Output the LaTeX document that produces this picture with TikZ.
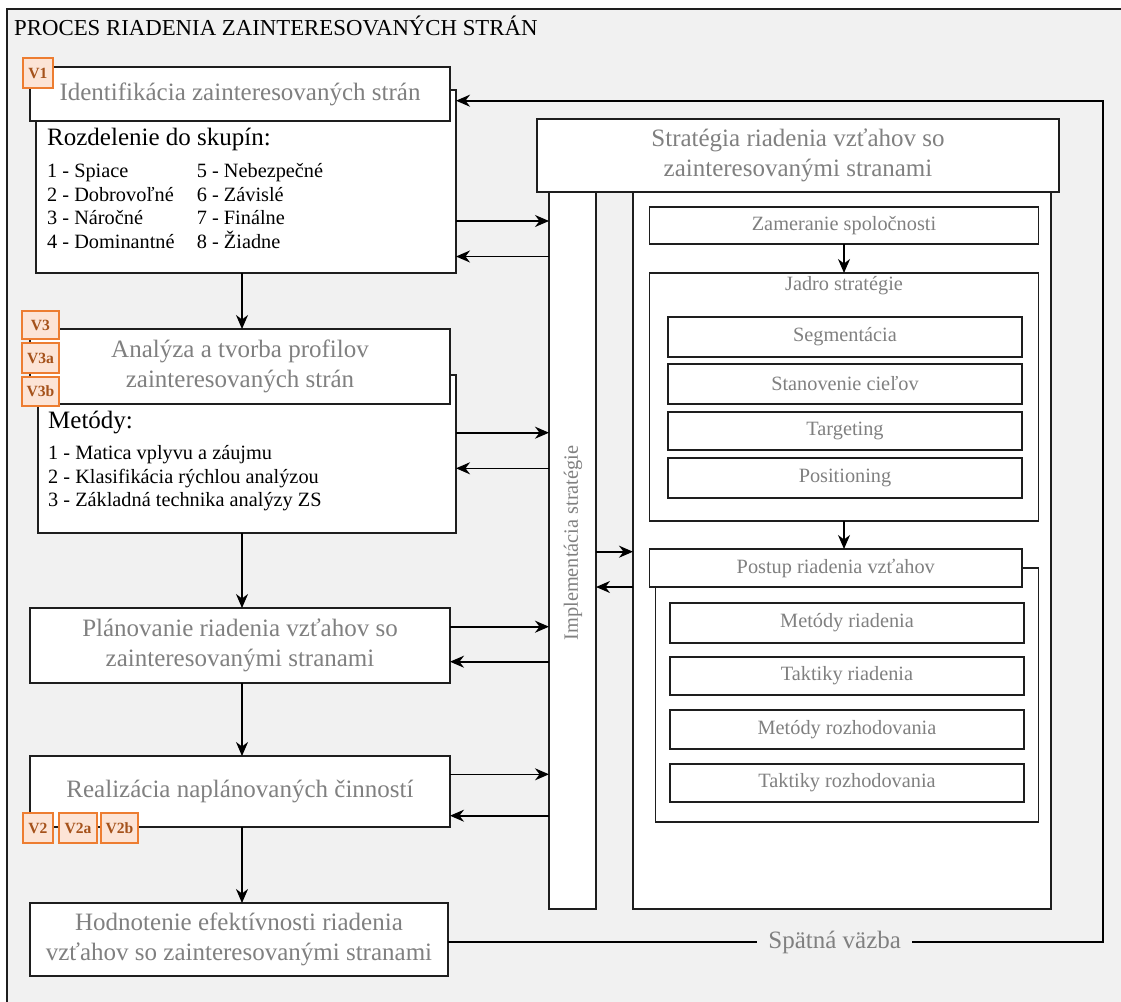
\documentclass[tikz,border=0pt]{standalone}
\usepackage{fontspec}
\setmainfont{Liberation Serif}
\usetikzlibrary{arrows.meta}

\definecolor{bgC}{HTML}{F1F1F1}
\definecolor{lineC}{HTML}{1E1E1E}
\definecolor{txtC}{HTML}{808080}
\definecolor{tagFill}{HTML}{FCE4D6}
\definecolor{tagDraw}{HTML}{ED7D31}
\definecolor{tagText}{HTML}{A5521B}

\newcommand\ftitle{\fontsize{22.8}{26}\selectfont}
\newcommand\fbig{\fontsize{25}{29.5}\selectfont}
\newcommand\fsmall{\fontsize{20.3}{23.6}\selectfont}
\newcommand\ftag{\fontsize{15.6}{18}\selectfont\bfseries}

\tikzset{
  box/.style={draw=lineC, fill=white, line width=1.6pt, inner sep=0pt,
    outer sep=0pt, align=center, text=txtC},
  bigbox/.style={box, font=\fbig},
  smallbox/.style={box, font=\fsmall},
  tag/.style={draw=tagDraw, fill=tagFill, line width=1.6pt, inner sep=0pt,
    outer sep=0pt, text=tagText, font=\ftag},
  item/.style={anchor=base west, inner sep=0pt, font=\fsmall, text=black},
  plain/.style={inner sep=0pt, font=\fsmall, text=txtC},
  arr/.style={draw=black, line width=1.6pt,
    -{Stealth[length=14pt, width=12pt, inset=4.5pt]}},
}

\begin{document}
\begin{tikzpicture}[x=1pt, y=-1pt]
\useasboundingbox (0,0) rectangle (1121,1001);
\clip (0,0) rectangle (1121,1001);

% outer frame
\draw[draw=lineC, fill=bgC, line width=1.6pt] (7,9) rectangle (1140,1020);
\node[anchor=base west, inner sep=0pt, font=\ftitle] (title) at (14,35)
  {PROCES RIADENIA ZAINTERESOVANÝCH STRÁN};

% ---- left column ----
% step 1
\node[box, minimum width=420pt, minimum height=183pt] (b1body) at (246,181.5) {};
\node[bigbox, minimum width=420pt, minimum height=54pt] (b1head) at (240,94)
  {Identifikácia zainteresovaných strán};
\node[item, font=\fbig] (b1lab) at (47,145) {Rozdelenie do skupín:};
\node[item] (g1) at (47,177.5) {1 - Spiace};
\node[item] (g2) at (47,201.1) {2 - Dobrovoľné};
\node[item] (g3) at (47,224.7) {3 - Náročné};
\node[item] (g4) at (47,248.3) {4 - Dominantné};
\node[item] (g5) at (196.7,177.5) {5 - Nebezpečné};
\node[item] (g6) at (196.7,201.1) {6 - Závislé};
\node[item] (g7) at (196.7,224.7) {7 - Finálne};
\node[item] (g8) at (196.7,248.3) {8 - Žiadne};

% step 2
\node[box, minimum width=418pt, minimum height=158pt] (b2body) at (247,454) {};
\node[bigbox, minimum width=420pt, minimum height=75pt] (b2head) at (240,366.5)
  {Analýza a tvorba profilov\\zainteresovaných strán};
\node[item, font=\fbig] (b2lab) at (48,428.3) {Metódy:};
\node[item] (m1) at (48,459.3) {1 - Matica vplyvu a záujmu};
\node[item] (m2) at (48,483) {2 - Klasifikácia rýchlou analýzou};
\node[item] (m3) at (48,506.7) {3 - Základná technika analýzy ZS};

% steps 3-5
\node[bigbox, minimum width=420pt, minimum height=75pt] (b3) at (240,645.5)
  {Plánovanie riadenia vzťahov so\\zainteresovanými stranami};
\node[bigbox, minimum width=420pt, minimum height=71pt] (b4) at (240,791.5)
  {Realizácia naplánovaných činností};
\node[bigbox, minimum width=418pt, minimum height=73pt] (b5) at (239,939.5)
  {Hodnotenie efektívnosti riadenia\\vzťahov so zainteresovanými stranami};

% tags
\node[tag, minimum width=30pt, minimum height=30pt] (v1) at (38,73) {V1};
\node[tag, minimum width=37pt, minimum height=28pt] (v3) at (40.5,325) {V3};
\node[tag, minimum width=37pt, minimum height=30pt] (v3a) at (40.5,358) {V3a};
\node[tag, minimum width=37pt, minimum height=29pt] (v3b) at (40.5,391.5) {V3b};
\node[tag, minimum width=30pt, minimum height=30pt] (v2) at (38,828) {V2};
\node[tag, minimum width=38pt, minimum height=30pt] (v2a) at (78,828) {V2a};
\node[tag, minimum width=37pt, minimum height=30pt] (v2b) at (119.5,828) {V2b};

% ---- right block ----
\node[box, minimum width=47pt, minimum height=717pt] (impl) at (572.5,550.5) {};
\node[plain, rotate=90] (impltxt) at (573,543) {Implementácia stratégie};
\node[box, minimum width=418pt, minimum height=717pt] (panel) at (842,550.5) {};
\node[bigbox, minimum width=522pt, minimum height=73pt] (strat) at (798,155.5)
  {Stratégia riadenia vzťahov so\\zainteresovanými stranami};

\node[smallbox, minimum width=389pt, minimum height=37pt] (zam) at (844,225.5)
  {Zameranie spoločnosti};
\node[box, minimum width=389pt, minimum height=248pt] (jadro) at (844,397) {};
\node[plain] (jadrotxt) at (844,286) {Jadro stratégie};
\node[smallbox, minimum width=354pt, minimum height=40pt] (seg) at (845,337) {Segmentácia};
\node[smallbox, minimum width=354pt, minimum height=40pt] (stan) at (845,384) {Stanovenie cieľov};
\node[smallbox, minimum width=354pt, minimum height=38pt] (targ) at (845,431) {Targeting};
\node[smallbox, minimum width=354pt, minimum height=40pt] (posi) at (845,478) {Positioning};

\node[box, minimum width=383pt, minimum height=254pt] (pbody) at (847,695) {};
\node[smallbox, minimum width=372.5pt, minimum height=38pt] (phead) at (835.75,568)
  {Postup riadenia vzťahov};
\node[smallbox, minimum width=354pt, minimum height=40pt] (metr) at (847,623) {Metódy riadenia};
\node[smallbox, minimum width=354pt, minimum height=38pt] (takr) at (847,676) {Taktiky riadenia};
\node[smallbox, minimum width=354pt, minimum height=39pt] (metz) at (847,729.5) {Metódy rozhodovania};
\node[smallbox, minimum width=354pt, minimum height=38pt] (takz) at (847,783) {Taktiky rozhodovania};

% ---- connectors ----
\coordinate (ax) at (242,0);
\draw[arr] (b1body.south -| ax) -- (b2head.north -| ax);
\draw[arr] (b2body.south -| ax) -- (b3.north -| ax);
\draw[arr] (b3.south -| ax) -- (b4.north -| ax);
\draw[arr] (b4.south -| ax) -- (b5.north -| ax);

\draw[arr] (zam.south) -- (jadro.north);
\draw[arr] (jadro.south) -- (jadro.south |- phead.north);

% exchanges with the implementation column
\coordinate (y1) at (0,221);   \coordinate (y2) at (0,256.5);
\coordinate (y3) at (0,432.7); \coordinate (y4) at (0,468.3);
\coordinate (y5) at (0,626.7); \coordinate (y6) at (0,661.7);
\coordinate (y7) at (0,774.3); \coordinate (y8) at (0,815.7);
\coordinate (y9) at (0,551.7); \coordinate (y10) at (0,587);
\draw[arr] (b1body.east |- y1) -- (impl.west |- y1);
\draw[arr] (impl.west |- y2) -- (b1body.east |- y2);
\draw[arr] (b2body.east |- y3) -- (impl.west |- y3);
\draw[arr] (impl.west |- y4) -- (b2body.east |- y4);
\draw[arr] (b3.east |- y5) -- (impl.west |- y5);
\draw[arr] (impl.west |- y6) -- (b3.east |- y6);
\draw[arr] (b4.east |- y7) -- (impl.west |- y7);
\draw[arr] (impl.west |- y8) -- (b4.east |- y8);
\draw[arr] (impl.east |- y9) -- (panel.west |- y9);
\draw[arr] (panel.west |- y10) -- (impl.east |- y10);

% feedback loop
\coordinate (fbx) at (1103,0);
\coordinate (fby) at (0,942);
\coordinate (fbt) at (0,100.7);
\draw[arr] (b5.east |- fby) -- (fbx |- fby) -- (fbx |- fbt) -- (b1body.east |- fbt);
\node[fill=bgC, inner xsep=11pt, inner ysep=2pt, font=\fbig, text=txtC] (fbl)
  at (834.7,942) {Spätná väzba};

\end{tikzpicture}
\end{document}
